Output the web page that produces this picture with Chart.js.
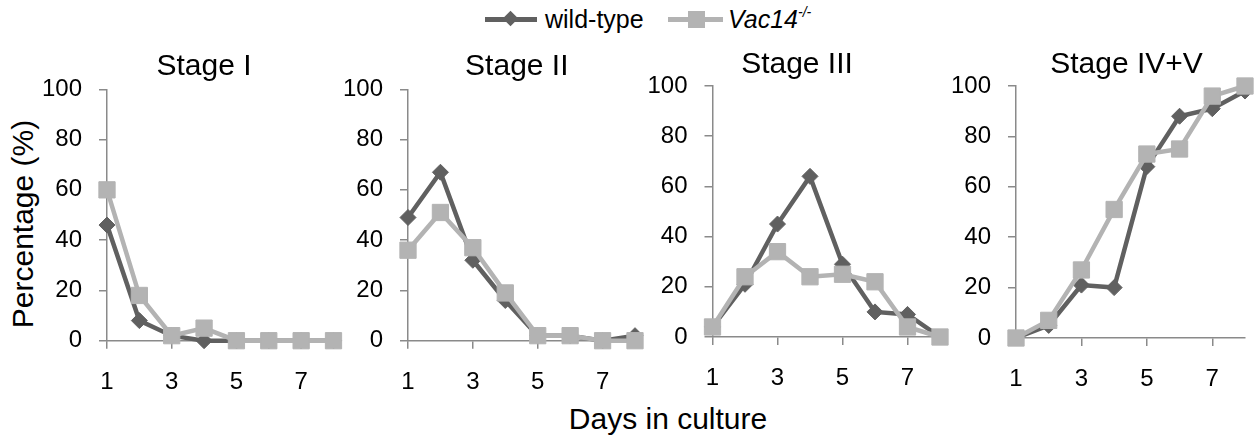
<!DOCTYPE html>
<html>
<head>
<meta charset="utf-8">
<script src="https://cdn.jsdelivr.net/npm/chart.js@4.4.1/dist/chart.umd.min.js"></script>
<style>
  body { margin: 0; background: #fff; }
  #fig {
    position: relative; width: 1257px; height: 438px; overflow: hidden;
    font-family: "Liberation Sans", Arial, sans-serif; color: #000;
  }
  #fig canvas { position: absolute; top: 0; }
  .legend-line { position: absolute; height: 5px; top: 17px; }
  .legend-mark { position: absolute; }
  .legend-text { position: absolute; top: 7px; font-size: 25px; line-height: 25px; white-space: nowrap; }
  .legend-text sup { font-size: 14px; vertical-align: 11px; line-height: 0; }
  #yTitle {
    position: absolute; width: 260px; height: 36px; line-height: 36px;
    left: -107px; top: 206px; text-align: center; font-size: 30px;
    transform: rotate(-90deg); white-space: nowrap;
  }
  #xTitle {
    position: absolute; width: 300px; left: 518px; top: 401px;
    height: 36px; line-height: 36px; text-align: center; font-size: 30px;
  }
</style>
</head>
<body>
<div id="fig">
  <div class="legend-line" style="left:485px; width:52px; background:#606060"></div>
  <div class="legend-mark" style="left:505px; top:12.5px; width:11px; height:11px; background:#606060; transform:rotate(45deg)"></div>
  <div class="legend-text" style="left:545px">wild-type</div>
  <div class="legend-line" style="left:668px; width:55px; background:#b3b3b3"></div>
  <div class="legend-mark" style="left:688px; top:11px; width:17px; height:17px; background:#b3b3b3"></div>
  <div class="legend-text" style="left:728px"><i>Vac14</i><sup><i>-/-</i></sup></div>
  <div id="yTitle">Percentage (%)</div>
  <div id="xTitle">Days in culture</div>
</div>
<script>
// values (percentage of cells per stage, day 1..8)
const DAYS = [1, 2, 3, 4, 5, 6, 7, 8];
const X_TICKS = [1, 3, 5, 7];
const STAGES = ["Stage I", "Stage II", "Stage III", "Stage IV+V"];
const SERIES_NAMES = ["wild-type", "Vac14-/-"];

const WT_STAGE_I = [46, 8, 2, 0, 0, 0, 0, 0];
const VAC_STAGE_I = [60, 18, 2, 5, 0, 0, 0, 0];
const WT_STAGE_II = [49, 67, 32, 16, 2, 2, 0, 2];
const VAC_STAGE_II = [36, 51, 37, 19, 2, 2, 0, 0];
const WT_STAGE_III = [4, 21, 45, 64, 29, 10, 9, 0];
const VAC_STAGE_III = [4, 24, 34, 24, 25, 22, 4, 0];
const WT_STAGE_IV_V = [0, 5, 21, 20, 68, 88, 91, 98];
const VAC_STAGE_IV_V = [0, 7, 27, 51, 73, 75, 96, 100];

const WT_VALUES = [WT_STAGE_I, WT_STAGE_II, WT_STAGE_III, WT_STAGE_IV_V];
const VAC_VALUES = [VAC_STAGE_I, VAC_STAGE_II, VAC_STAGE_III, VAC_STAGE_IV_V];

const WT_COLOR = "#606060";
const VAC_COLOR = "#b3b3b3";
const AXIS_COLOR = "#8a8a8a";
const FIG_HEIGHT = 438;
const Y_AXIS_WIDTH = 70;

// where each plot area sits in the picture (px)
const PANEL_BOXES = [
  { plotLeft: 107, plotRight: 333.5, plotTop: 89.3, plotBottom: 340.7, titleCenter: 204, titleMid: 67 },
  { plotLeft: 408, plotRight: 635, plotTop: 89.3, plotBottom: 340.7, titleCenter: 516.8, titleMid: 67 },
  { plotLeft: 712.5, plotRight: 940, plotTop: 86, plotBottom: 337, titleCenter: 797, titleMid: 65 },
  { plotLeft: 1016, plotRight: 1245, plotTop: 86, plotBottom: 338, titleCenter: 1126.5, titleMid: 65 },
];

Chart.defaults.font.family = '"Liberation Sans", Arial, sans-serif';
Chart.defaults.color = "#000";

function toPoints(values) {
  return DAYS.map((day, k) => ({ x: day, y: values[k] }));
}

function renderStage(index) {
  const box = PANEL_BOXES[index];
  const left = Math.floor(box.plotLeft - Y_AXIS_WIDTH - 2);
  const padLeft = box.plotLeft - Y_AXIS_WIDTH - left;
  // empty box on the right so the full-width title is centred where the figure has it
  const rightSpace = 2 * box.titleCenter - box.plotLeft + Y_AXIS_WIDTH - box.plotRight;
  const width = Math.ceil(box.plotRight + rightSpace + 4 - left);
  const padRight = width - (box.plotRight + rightSpace - left);

  const canvas = document.createElement("canvas");
  canvas.width = width;
  canvas.height = FIG_HEIGHT;
  canvas.style.left = left + "px";
  document.getElementById("fig").appendChild(canvas);

  const axisGrid = { drawOnChartArea: false, drawTicks: true, tickLength: 8, color: AXIS_COLOR, lineWidth: 1.5 };
  const axisBorder = { display: true, color: AXIS_COLOR, width: 1.5 };

  new Chart(canvas, {
    type: "line",
    data: {
      datasets: [
        {
          label: SERIES_NAMES[1],
          data: toPoints(VAC_VALUES[index]),
          borderColor: VAC_COLOR,
          backgroundColor: VAC_COLOR,
          pointBackgroundColor: VAC_COLOR,
          pointBorderColor: VAC_COLOR,
          pointStyle: "rect",
          pointRadius: 11.5,
          pointBorderWidth: 1,
          borderWidth: 4.5,
          tension: 0,
          clip: false,
          order: 0,
        },
        {
          label: SERIES_NAMES[0],
          data: toPoints(WT_VALUES[index]),
          borderColor: WT_COLOR,
          backgroundColor: WT_COLOR,
          pointBackgroundColor: WT_COLOR,
          pointBorderColor: WT_COLOR,
          pointStyle: "rectRot",
          pointRadius: 8,
          pointBorderWidth: 1,
          borderWidth: 4.5,
          tension: 0,
          clip: false,
          order: 1,
        },
      ],
    },
    options: {
      responsive: false,
      animation: false,
      layout: { padding: { left: padLeft, right: padRight, top: 0, bottom: 0 } },
      plugins: {
        legend: { display: false },
        tooltip: { enabled: false },
        title: {
          display: true,
          text: STAGES[index],
          color: "#000",
          font: { size: 30, weight: "normal" },
          padding: { top: box.titleMid - 18, bottom: box.plotTop - box.titleMid - 18 },
        },
      },
      scales: {
        x: {
          type: "linear",
          min: 1,
          max: 8,
          afterBuildTicks: (axis) => { axis.ticks = X_TICKS.map((v) => ({ value: v })); },
          afterFit: (axis) => { axis.height = FIG_HEIGHT - box.plotBottom; },
          grid: axisGrid,
          border: axisBorder,
          ticks: { padding: 19, maxRotation: 0, autoSkip: false, font: { size: 24 }, color: "#000" },
        },
        y: {
          min: 0,
          max: 100,
          afterFit: (axis) => { axis.width = Y_AXIS_WIDTH; },
          grid: axisGrid,
          border: axisBorder,
          ticks: { stepSize: 20, padding: 17, font: { size: 24 }, color: "#000" },
        },
        ySpacer: {
          axis: "y",
          position: "right",
          afterFit: (axis) => { axis.width = rightSpace; },
          grid: { display: false },
          border: { display: false },
          ticks: { display: false },
        },
      },
    },
  });
}

STAGES.forEach((_, i) => renderStage(i));
</script>
</body>
</html>
